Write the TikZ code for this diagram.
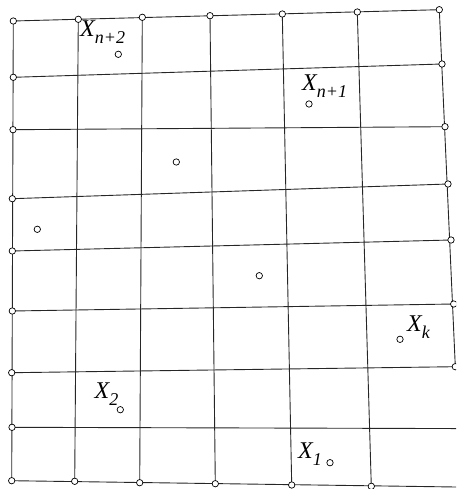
\documentclass[tikz,border=0pt]{standalone}
\usepackage{fontspec}
\setmainfont{Liberation Serif}
\newcommand{\xsub}[1]{X\raisebox{-7pt}{\fontsize{18}{18}\selectfont #1}}
\begin{document}
\begin{tikzpicture}[x=1pt,y=-1pt,
  gridline/.style={line width=0.9pt, black!85},
  gpt/.style={circle, draw=black, fill=white, line width=0.7pt, inner sep=0pt, minimum size=6.4pt},
  lbl/.style={anchor=base west, inner sep=0pt, font=\fontsize{24}{24}\selectfont\itshape}]
\useasboundingbox (0,0) rectangle (456,489);
\clip (0,0) rectangle (456,489);
% top boundary
\coordinate (T1) at (13.3,21);
\coordinate (T2) at (78.3,19.3);
\coordinate (T3) at (142.3,17.3);
\coordinate (T4) at (210,15.7);
\coordinate (T5) at (282.3,14);
\coordinate (T6) at (357.3,12);
\coordinate (T7) at (439.3,9.7);
% left boundary
\coordinate (L1) at (13.3,21);
\coordinate (L2) at (13.3,77.3);
\coordinate (L3) at (13,129.7);
\coordinate (L4) at (12.3,198.7);
\coordinate (L5) at (12.3,251);
\coordinate (L6) at (12.3,311);
\coordinate (L7) at (11.7,372.7);
\coordinate (L8) at (12,427.3);
\coordinate (L9) at (11.7,480.7);
% right boundary
\coordinate (R1) at (439.3,9.7);
\coordinate (R2) at (442,64);
\coordinate (R3) at (445,126.7);
\coordinate (R4) at (448,184);
\coordinate (R5) at (451,240);
\coordinate (R6) at (453.7,304);
\coordinate (R7) at (455.3,366.7);
\coordinate (R8) at (470,428.6);
\coordinate (R9) at (470,487.2);
% bottom boundary
\coordinate (B1) at (11.7,480.7);
\coordinate (B2) at (74.7,481.3);
\coordinate (B3) at (139.7,482.7);
\coordinate (B4) at (215.3,483.7);
\coordinate (B5) at (291.7,485);
\coordinate (B6) at (371.3,486.3);
% grid lines
\foreach \i in {1,...,9} { \draw[gridline] (L\i) -- (R\i); }
\foreach \i in {1,...,6} { \draw[gridline] (T\i) -- (B\i); }
\draw[gridline] (T7) -- (R7);
% boundary points
\foreach \i in {1,...,7} { \node[gpt] (pt\i) at (T\i) {}; }
\foreach \i in {2,...,9} { \node[gpt] (pl\i) at (L\i) {}; }
\foreach \i in {2,...,7} { \node[gpt] (pr\i) at (R\i) {}; }
\foreach \i in {2,...,6} { \node[gpt] (pb\i) at (B\i) {}; }
% sample points
\node[gpt] (s1) at (118.3,54.3) {};
\node[gpt] (s2) at (176.3,162) {};
\node[gpt] (s3) at (37.3,229.3) {};
\node[gpt] (s4) at (309,104) {};
\node[gpt] (s5) at (259.3,275.7) {};
\node[gpt] (s6) at (400,339.3) {};
\node[gpt] (s7) at (120.3,409.7) {};
\node[gpt] (s8) at (330,462.7) {};
% labels
\node[lbl] (lnp2) at (80,37) {\xsub{n+2}};
\node[lbl] (lnp1) at (302,90.5) {\xsub{n+1}};
\node[lbl] (l2) at (94.5,398) {\xsub{2}};
\node[lbl] (lk) at (407,331) {\xsub{k}};
\node[lbl] (l1) at (298,458) {\xsub{1}};
\end{tikzpicture}
\end{document}
